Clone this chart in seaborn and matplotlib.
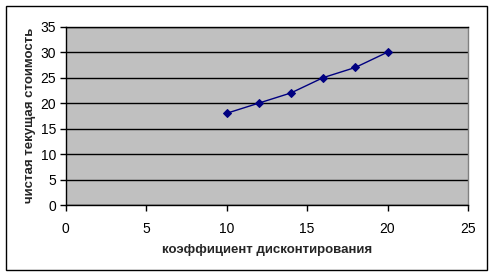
import matplotlib
matplotlib.use("Agg")
import matplotlib.pyplot as plt
import seaborn as sns
import pandas as pd
from matplotlib.patches import Rectangle

discount_rate = [10, 12, 14, 16, 18, 20]
npv = [18, 20, 22, 25, 27, 30]
x_ticks = [0, 5, 10, 15, 20, 25]
y_ticks = [0, 5, 10, 15, 20, 25, 30, 35]
x_label = "коэффициент дисконтирования"
y_label = "чистая текущая стоимость"

sns.set_theme(style="white")
plt.rcParams['font.family'] = ['Liberation Sans', 'DejaVu Sans']

df = pd.DataFrame({"x": discount_rate, "y": npv})

fig = plt.figure(figsize=(4.93, 2.76), dpi=100)
fig.patch.set_facecolor("white")
ax = fig.add_axes([0.1333, 0.2572, 0.9493 - 0.1333, 0.9033 - 0.2572])
ax.set_facecolor("#C0C0C0")

sns.lineplot(data=df, x="x", y="y", ax=ax, color="#000080", linewidth=1.0,
             marker="D", markersize=4.5, markeredgecolor="#000080",
             markerfacecolor="#000080", zorder=3)

ax.set_xlim(0, 25)
ax.set_ylim(0, 35)
ax.set_xticks(x_ticks)
ax.set_yticks(y_ticks)
ax.set_xticklabels([str(t) for t in x_ticks], fontsize=10)
ax.set_yticklabels([str(t) for t in y_ticks], fontsize=10)
ax.yaxis.grid(True, color="black", linewidth=1.0)
ax.xaxis.grid(False)
ax.set_axisbelow(True)
ax.tick_params(axis="both", direction="out", length=4, width=1, color="black",
               labelcolor="black", bottom=True, left=True)
ax.tick_params(axis="x", pad=8)
ax.tick_params(axis="y", pad=3)

for s in ["left", "bottom"]:
    ax.spines[s].set_color("black")
    ax.spines[s].set_linewidth(1.0)
ax.spines["top"].set_color("black")
ax.spines["top"].set_linewidth(1.0)
ax.spines["right"].set_color("#808080")
ax.spines["right"].set_linewidth(1.0)

ax.set_xlabel(x_label, fontsize=9.5, fontweight="bold", labelpad=6)
ax.set_ylabel(y_label, fontsize=9.5, fontweight="bold", labelpad=3)

fig.patches.append(Rectangle((5.5 / 493, 1 - 269.5 / 276), 481 / 493, 264 / 276,
                             transform=fig.transFigure, fill=False,
                             edgecolor="black", linewidth=1.0))

fig.savefig("out.png", dpi=100)
